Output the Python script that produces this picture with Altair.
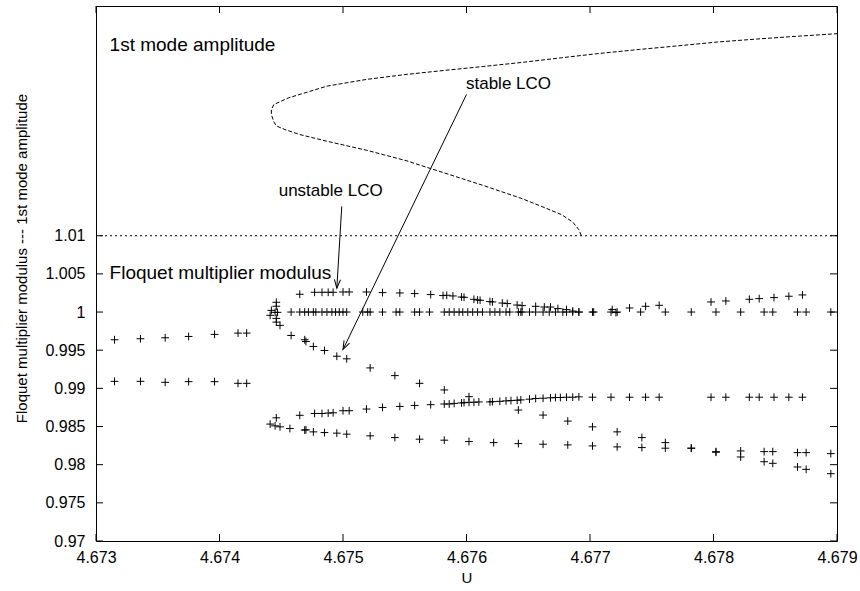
import altair as alt
import pandas as pd

# ---------------- axis ticks ----------------
x_ticks = [4.673, 4.674, 4.675, 4.676, 4.677, 4.678, 4.679]
y_ticks = [0.97, 0.975, 0.98, 0.985, 0.99, 0.995, 1.0, 1.005, 1.01]
x_domain = [4.673, 4.679]
y_domain = [0.97, 1.0401]

# ---------------- Floquet multipliers (before fold) ----------------
pre_u = [4.67315, 4.67336, 4.67356, 4.67375, 4.67396, 4.67415, 4.67422]
pre_upper_v = [0.99637, 0.99650, 0.99663, 0.99680, 0.99707, 0.99724, 0.99724]
pre_lower_v = [0.99092, 0.99092, 0.99079, 0.99088, 0.99088, 0.99066, 0.99066]

# ---------------- fold cluster ----------------
fold_u = [4.67446, 4.67446, 4.67442, 4.67445, 4.67447, 4.67441, 4.67446,
          4.67441, 4.67445, 4.67449, 4.67446]
fold_v = [1.00128, 1.00076, 1.00022, 0.99996, 0.99996, 0.99957, 0.99917,
          0.98532, 0.98509, 0.98496, 0.98614]

# ---------------- trivial multiplier (= 1) ----------------
one_u = [4.67458, 4.67465, 4.67469, 4.67472, 4.67476, 4.67478, 4.67483, 4.67487, 4.67491, 4.67494,
         4.67497, 4.67500, 4.67503, 4.67516, 4.67520, 4.67522, 4.67532, 4.67543, 4.67546, 4.67558,
         4.67562, 4.67570, 4.67582, 4.67586, 4.67590, 4.67594, 4.67597, 4.67601, 4.67605, 4.67609,
         4.67613, 4.67619, 4.67623, 4.67627, 4.67632, 4.67635, 4.67642, 4.67644, 4.67645, 4.67651,
         4.67656, 4.67662, 4.67667, 4.67672, 4.67678, 4.67681, 4.67686, 4.67691, 4.67702, 4.67703,
         4.67717, 4.67721, 4.67722, 4.67741, 4.67761, 4.67782, 4.67802, 4.67822, 4.67841, 4.67848,
         4.67868, 4.67875, 4.67895]
one_v = [1.0, 1.0, 1.0, 1.0, 1.0, 1.0, 1.0, 1.0, 1.0, 1.0,
         1.0, 1.0, 1.0, 1.0, 1.0, 1.0, 1.0, 1.0, 1.0, 1.0,
         1.0, 1.0, 1.0, 1.0, 1.0, 1.0, 1.0, 1.0, 1.0, 1.0,
         1.0, 1.0, 1.0, 1.0, 1.0, 1.0, 1.0, 1.0, 1.0, 1.0,
         1.0, 1.0, 1.0, 1.0, 1.0, 1.0, 1.0, 1.0, 1.0, 1.0,
         1.0, 0.99993, 1.0, 1.0, 1.0, 1.0, 1.0, 1.0, 1.0, 1.0,
         1.0, 1.0, 1.0]

# ---------------- unstable LCO multiplier > 1 ----------------
unst_u = [4.67465, 4.67477, 4.67483, 4.67488, 4.67492, 4.67500, 4.67505, 4.67519, 4.67532, 4.67546,
          4.67558, 4.67571, 4.67581, 4.67584, 4.67589, 4.67596, 4.67598, 4.67606, 4.67609, 4.67611,
          4.67619, 4.67621, 4.67629, 4.67633, 4.67641, 4.67645, 4.67656, 4.67663, 4.67668, 4.67674,
          4.67681, 4.67686, 4.67691]
unst_v = [1.00233, 1.00259, 1.00259, 1.00259, 1.00259, 1.00263, 1.00263, 1.00263, 1.00255, 1.00250,
          1.00242, 1.00229, 1.00216, 1.00220, 1.00211, 1.00197, 1.00193, 1.00167, 1.00158, 1.00154,
          1.00137, 1.00132, 1.00118, 1.00111, 1.00092, 1.00084, 1.00075, 1.00066, 1.00066, 1.00045,
          1.00032, 1.00013, 1.00000]

# ---------------- multiplier slightly above 1 beyond U = 4.677 ----------------
high_u = [4.67718, 4.67732, 4.67745, 4.67756, 4.67798, 4.67810, 4.67829, 4.67837, 4.67849, 4.67861,
          4.67872]
high_v = [1.00032, 1.00053, 1.00075, 1.00088, 1.00132, 1.00145, 1.00167, 1.00176, 1.00189, 1.00207,
          1.00224]

# ---------------- middle branch (~0.987 - 0.989) ----------------
mid_u = [4.67465, 4.67477, 4.67483, 4.67488, 4.67492, 4.67500, 4.67505, 4.67519, 4.67532, 4.67546,
         4.67558, 4.67571, 4.67582, 4.67586, 4.67590, 4.67596, 4.67598, 4.67602, 4.67606, 4.67610,
         4.67619, 4.67621, 4.67627, 4.67632, 4.67636, 4.67641, 4.67644, 4.67651, 4.67656, 4.67662,
         4.67668, 4.67672, 4.67676, 4.67681, 4.67686, 4.67691, 4.67702, 4.67717, 4.67732, 4.67745,
         4.67756, 4.67798, 4.67810, 4.67829, 4.67837, 4.67849, 4.67861, 4.67872]
mid_v = [0.98647, 0.98671, 0.98671, 0.98676, 0.98680, 0.98707, 0.98707, 0.98729, 0.98750, 0.98763,
         0.98776, 0.98786, 0.98795, 0.98795, 0.98803, 0.98809, 0.98813, 0.98817, 0.98817, 0.98822,
         0.98822, 0.98826, 0.98830, 0.98836, 0.98840, 0.98844, 0.98849, 0.98858, 0.98867, 0.98871,
         0.98876, 0.98880, 0.98880, 0.98884, 0.98884, 0.98889, 0.98884, 0.98884, 0.98884, 0.98884,
         0.98884, 0.98884, 0.98884, 0.98884, 0.98884, 0.98884, 0.98884, 0.98884]

# ---------------- stable LCO descending multiplier ----------------
diag_u = [4.67446, 4.67449, 4.67458, 4.67469, 4.67470, 4.67476, 4.67485, 4.67495, 4.67503, 4.67522,
          4.67542, 4.67562, 4.67582, 4.67602, 4.67642, 4.67662, 4.67682, 4.67702, 4.67722, 4.67742,
          4.67761, 4.67782, 4.67802, 4.67822, 4.67841, 4.67848, 4.67868, 4.67875, 4.67895]
diag_v = [0.99868, 0.99825, 0.99693, 0.99637, 0.99614, 0.99549, 0.99496, 0.99421, 0.99387, 0.99268,
          0.99167, 0.99066, 0.98979, 0.98891, 0.98716, 0.98650, 0.98571, 0.98496, 0.98430, 0.98355,
          0.98289, 0.98216, 0.98163, 0.98101, 0.98039, 0.98018, 0.97970, 0.97939, 0.97882]

# ---------------- lowest branch (~0.985 - 0.981) ----------------
low_u = [4.67457, 4.67469, 4.67470, 4.67476, 4.67485, 4.67495, 4.67503, 4.67522, 4.67542, 4.67562,
         4.67582, 4.67602, 4.67622, 4.67642, 4.67662, 4.67682, 4.67702, 4.67722, 4.67742, 4.67761,
         4.67782, 4.67802, 4.67822, 4.67841, 4.67848, 4.67868, 4.67875, 4.67895]
low_v = [0.98474, 0.98453, 0.98457, 0.98430, 0.98421, 0.98413, 0.98400, 0.98378, 0.98355, 0.98334,
         0.98321, 0.98303, 0.98289, 0.98276, 0.98268, 0.98259, 0.98246, 0.98233, 0.98224, 0.98216,
         0.98216, 0.98171, 0.98180, 0.98171, 0.98171, 0.98158, 0.98158, 0.98145]

# ---------------- 1st mode amplitude curve (scaled into the upper band) ----------------
curve_u = [4.67693, 4.67691, 4.67686, 4.67677, 4.67664, 4.67645, 4.67614, 4.67582, 4.67551, 4.67519,
           4.67487, 4.67465, 4.67453, 4.67446, 4.67444, 4.67442, 4.67442, 4.67444, 4.67456, 4.67472,
           4.67487, 4.67519, 4.67551, 4.67582, 4.67614, 4.67645, 4.67677, 4.67708, 4.67740, 4.67772,
           4.67803, 4.67835, 4.67866, 4.67900]
curve_v = [1.01000, 1.01079, 1.01179, 1.01276, 1.01363, 1.01486, 1.01656, 1.01823, 1.01984, 1.02120,
           1.02238, 1.02326, 1.02391, 1.02439, 1.02492, 1.02588, 1.02654, 1.02719, 1.02807, 1.02886,
           1.02960, 1.03048, 1.03113, 1.03166, 1.03218, 1.03271, 1.03332, 1.03389, 1.03441, 1.03489,
           1.03538, 1.03577, 1.03612, 1.03647]

separator_v = [1.01]

# ---------------- annotations ----------------
label_text = ["1st mode amplitude", "Floquet multiplier modulus"]
label_u = [4.67311, 4.67311]
label_v = [1.0350, 1.0051]

lco_text = ["unstable LCO", "stable LCO"]
lco_u = [4.67490, 4.67634]
lco_v = [1.01582, 1.02982]

arrow_u1 = [4.67499, 4.67600]
arrow_v1 = [1.01385, 1.02851]
arrow_u2 = [4.67495, 4.67500]
arrow_v2 = [1.00312, 0.99509]
arrow_angle = [4, 26]

# ---------------- build tables ----------------
def frame(us, vs):
    return pd.DataFrame({"U": us, "v": vs})

pts = pd.concat([
    frame(pre_u, pre_upper_v), frame(pre_u, pre_lower_v), frame(fold_u, fold_v),
    frame(one_u, one_v), frame(unst_u, unst_v), frame(high_u, high_v),
    frame(mid_u, mid_v), frame(diag_u, diag_v), frame(low_u, low_v),
], ignore_index=True)

curve_df = pd.DataFrame({"U": curve_u, "v": curve_v, "i": list(range(len(curve_u)))})
labels_df = pd.DataFrame({"U": label_u, "v": label_v, "t": label_text})
lco_df = pd.DataFrame({"U": lco_u, "v": lco_v, "t": lco_text})
arrows_df = pd.DataFrame({"U": arrow_u1, "v": arrow_v1, "U2": arrow_u2, "v2": arrow_v2,
                          "a": arrow_angle})
xt_df = pd.DataFrame({"U": x_ticks})
yt_df = pd.DataFrame({"v": y_ticks})
sep_df = pd.DataFrame({"v": separator_v})

W, H = 741, 535
FONT = "Liberation Sans"
xs = alt.Scale(domain=x_domain, nice=False, zero=False)
ys = alt.Scale(domain=y_domain, nice=False, zero=False)

x_axis = alt.Axis(values=x_ticks, format=".4~g", ticks=False, domain=False, grid=False,
                  labelFontSize=16, labelPadding=8, labelFont=FONT, labelColor="black",
                  labelFlush=False, labelOverlap=False,
                  titleFont=FONT, titleFontSize=15, titleFontWeight="normal",
                  titleColor="black", titlePadding=5)
y_axis = alt.Axis(values=y_ticks, format=".4~g", ticks=False, domain=False, grid=False,
                  labelFontSize=16, labelPadding=11, labelFont=FONT, labelColor="black",
                  labelFlush=False, labelOverlap=False,
                  titleFont=FONT, titleFontSize=15, titleFontWeight="normal",
                  titleColor="black", titlePadding=15, titleY=252)

X_TITLE = "U"
Y_TITLE = "Floquet multiplier modulus --- 1st mode amplitude"


def X(field="U"):
    return alt.X(f"{field}:Q", scale=xs, axis=x_axis, title=X_TITLE)


def Y(field="v"):
    return alt.Y(f"{field}:Q", scale=ys, axis=y_axis, title=Y_TITLE)


plus = "M-1,0L1,0M0,-1L0,1"
points = alt.Chart(pts).mark_point(shape=plus, size=60, filled=False, color="black",
                                   strokeWidth=1, opacity=1).encode(x=X(), y=Y())

curve = alt.Chart(curve_df).mark_line(color="black", strokeWidth=1, strokeDash=[4, 2]).encode(
    x=X(), y=Y(), order="i:Q")

sep = alt.Chart(sep_df).mark_rule(color="black", strokeWidth=1, strokeDash=[2, 3]).encode(y=Y())

arrow_lines = alt.Chart(arrows_df).mark_rule(color="black", strokeWidth=1).encode(
    x=X(), y=Y(), x2="U2:Q", y2="v2:Q")
arrow_heads = alt.Chart(arrows_df).mark_point(shape="M-0.35,-1L0,0L0.35,-1", size=300,
                                              filled=False, color="black", strokeWidth=1,
                                              opacity=1).encode(
    x=X("U2"), y=Y("v2"), angle=alt.Angle("a:Q", scale=None))

big_labels = alt.Chart(labels_df).mark_text(align="left", baseline="middle", font=FONT,
                                            fontSize=19, color="black").encode(
    x=X(), y=Y(), text="t:N")
lco_labels = alt.Chart(lco_df).mark_text(align="center", baseline="middle", font=FONT,
                                         fontSize=17, color="black").encode(
    x=X(), y=Y(), text="t:N")

TL = 7
tick_bottom = alt.Chart(xt_df).mark_rule(color="black", strokeWidth=1).encode(
    x=X(), y=alt.value(H), y2=alt.value(H - TL))
tick_top = alt.Chart(xt_df).mark_rule(color="black", strokeWidth=1).encode(
    x=X(), y=alt.value(0), y2=alt.value(TL))
tick_left = alt.Chart(yt_df).mark_rule(color="black", strokeWidth=1).encode(
    y=Y(), x=alt.value(0), x2=alt.value(TL))
tick_right = alt.Chart(yt_df).mark_rule(color="black", strokeWidth=1).encode(
    y=Y(), x=alt.value(W), x2=alt.value(W - TL))

chart = alt.layer(
    points, curve, sep, arrow_lines, arrow_heads, big_labels, lco_labels,
    tick_bottom, tick_top, tick_left, tick_right
).properties(
    width=W, height=H,
    autosize=alt.AutoSizeParams(type="none"),
    padding={"left": 96, "top": 6, "right": 23, "bottom": 50},
    background="white",
).configure_view(stroke="black", strokeWidth=1)

chart.save("out.html", embed_options={"renderer": "svg", "actions": False})
